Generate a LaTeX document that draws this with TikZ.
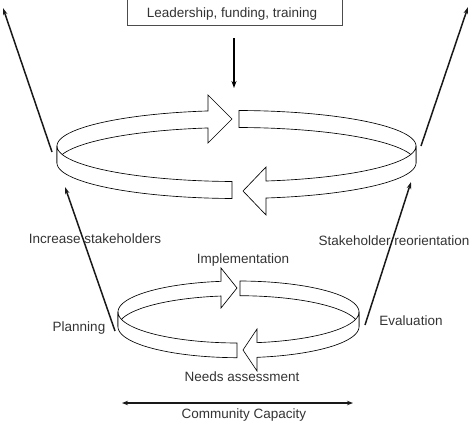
\documentclass[tikz,border=0pt]{standalone}
\usepackage{fontspec}
\setmainfont{Liberation Sans}
\usetikzlibrary{arrows.meta}
\begin{document}
\begin{tikzpicture}[x=1pt,y=-1pt,
  band/.style={fill=white,draw=black,line width=0.65pt,line join=miter},
  lbl/.style={font=\fontsize{13.5}{16}\selectfont,text=black!80,inner sep=0pt,anchor=base},
  longarrow/.style={line width=1.5pt,draw=black!90,-{Stealth[length=7pt,width=4.5pt]}},
  boxst/.style={draw=black!70,line width=0.8pt,fill=white,minimum width=215pt,minimum height=40pt,inner sep=0pt},
]
\useasboundingbox (0,0) rectangle (474,421);

% top box
\node[boxst] (lead) at (234.5,5) {};
\node[lbl] (leadtxt) at (232,17.5) {Leadership, funding, training};
\coordinate (dnS) at (234,38);
\coordinate (dnE) at (234,88);
\draw[line width=2pt,-{Stealth[length=7pt,width=5pt]}] (dnS) -- (dnE);

% ===== big ring =====
% back, left part with head (pointing right)
\filldraw[band] plot[variable=\t,domain=180:99.14,samples=60] ({236.5+179.5*cos(\t)},{146-35.5*sin(\t)})
  -- (208,95) -- (232,119) -- (208,143)
  -- plot[variable=\t,domain=99.14:180,samples=60] ({236.5+179.5*cos(\t)},{163-35.5*sin(\t)}) -- cycle;
% back, right part
\filldraw[band] plot[variable=\t,domain=89.2:0,samples=60] ({236.5+179.5*cos(\t)},{146-35.5*sin(\t)})
  -- plot[variable=\t,domain=0:89.2,samples=60] ({236.5+179.5*cos(\t)},{163-35.5*sin(\t)}) -- cycle;
% front, right part with head (pointing left)
\filldraw[band] plot[variable=\t,domain=360:279.46,samples=60] ({236.5+179.5*cos(\t)},{146-35.5*sin(\t)})
  -- (266,167) -- (243,191) -- (266,215)
  -- plot[variable=\t,domain=279.46:360,samples=60] ({236.5+179.5*cos(\t)},{163-35.5*sin(\t)}) -- cycle;
% front, left part
\filldraw[band] plot[variable=\t,domain=268.56:180,samples=60] ({236.5+179.5*cos(\t)},{146-35.5*sin(\t)})
  -- plot[variable=\t,domain=180:268.56,samples=60] ({236.5+179.5*cos(\t)},{163-35.5*sin(\t)}) -- cycle;

% ===== small ring =====
\filldraw[band] plot[variable=\t,domain=180:98.35,samples=60] ({238.5+120.5*cos(\t)},{312-31*sin(\t)})
  -- (221,268) -- (237,288) -- (221,308)
  -- plot[variable=\t,domain=98.35:180,samples=60] ({238.5+120.5*cos(\t)},{326.7-31*sin(\t)}) -- cycle;
\filldraw[band] plot[variable=\t,domain=89.29:0,samples=60] ({238.5+120.5*cos(\t)},{312-31*sin(\t)})
  -- plot[variable=\t,domain=0:89.29,samples=60] ({238.5+120.5*cos(\t)},{326.7-31*sin(\t)}) -- cycle;
\filldraw[band] plot[variable=\t,domain=360:278.83,samples=60] ({238.5+120.5*cos(\t)},{312-31*sin(\t)})
  -- (257,329) -- (243,350) -- (257,371)
  -- plot[variable=\t,domain=278.83:360,samples=60] ({238.5+120.5*cos(\t)},{326.7-31*sin(\t)}) -- cycle;
\filldraw[band] plot[variable=\t,domain=269.29:180,samples=60] ({238.5+120.5*cos(\t)},{312-31*sin(\t)})
  -- plot[variable=\t,domain=180:269.29,samples=60] ({238.5+120.5*cos(\t)},{326.7-31*sin(\t)}) -- cycle;

% labels
\node[lbl] (incr) at (95,243.3) {Increase stakeholders};
\node[lbl] (reor) at (394,245) {Stakeholder reorientation};
\node[lbl] (impl) at (243,263.3) {Implementation};
\node[lbl] (plan) at (79,331.5) {Planning};
\node[lbl] (eval) at (411,325) {Evaluation};
\node[lbl] (need) at (242,381.7) {Needs assessment};
\node[lbl] (comm) at (244,418.3) {Community Capacity};

% long arrows
\coordinate (bl0) at (52,152);  \coordinate (bl1) at (3,8);
\coordinate (br0) at (421,146); \coordinate (br1) at (468,7);
\coordinate (sl0) at (115,331); \coordinate (sl1) at (65,187);
\coordinate (sr0) at (365,325); \coordinate (sr1) at (411,182);
\draw[longarrow] (bl0) -- (bl1);
\draw[longarrow] (br0) -- (br1);
\draw[longarrow] (sl0) -- (sl1);
\draw[longarrow] (sr0) -- (sr1);

% community capacity double arrow
\coordinate (ccL) at (122,403);
\coordinate (ccR) at (353,403);
\draw[line width=1.3pt,draw=black!90,{Stealth[length=6pt,width=4.5pt]}-{Stealth[length=6pt,width=4.5pt]}] (ccL) -- (ccR);
\end{tikzpicture}
\end{document}
